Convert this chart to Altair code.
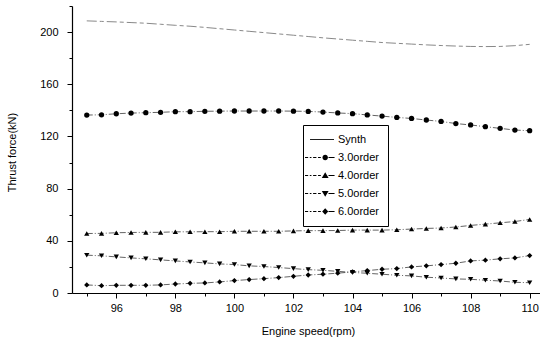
import altair as alt
import pandas as pd

# ---------------- data ----------------
rpm = [95, 95.5, 96, 96.5, 97, 97.5, 98, 98.5, 99, 99.5, 100, 100.5, 101, 101.5,
       102, 102.5, 103, 103.5, 104, 104.5, 105, 105.5, 106, 106.5, 107, 107.5,
       108, 108.5, 109, 109.5, 110]

synth = [208.6, 208.2, 207.8, 207.3, 206.8, 206.0, 205.2, 204.5, 203.6, 202.6,
         201.6, 200.6, 199.6, 198.6, 197.6, 196.6, 195.6, 194.7, 193.8, 192.9,
         192.0, 191.4, 190.8, 190.2, 189.7, 189.3, 189.0, 188.9, 189.0, 189.6, 190.6]

order3 = [136.4, 136.6, 137.4, 137.9, 138.2, 138.5, 139.0, 139.0, 139.3, 139.4,
          139.5, 139.5, 139.5, 139.5, 139.4, 139.2, 138.7, 138.0, 137.5, 136.5,
          135.6, 134.6, 133.8, 132.6, 131.5, 129.9, 128.8, 127.5, 126.2, 124.9, 124.4]

order4 = [45.6, 45.7, 46.2, 46.4, 46.5, 46.5, 46.9, 46.9, 47.0, 47.0,
          47.3, 47.3, 47.3, 47.3, 47.6, 47.8, 47.8, 47.9, 48.2, 48.2,
          48.2, 48.5, 49.0, 49.5, 49.8, 50.6, 51.8, 52.8, 53.8, 54.8, 56.4]

order5 = [29.0, 28.5, 27.7, 26.9, 26.2, 25.4, 24.6, 23.8, 23.1, 22.3,
          21.8, 20.8, 20.3, 19.5, 18.7, 17.9, 17.4, 16.6, 15.8, 15.1,
          14.4, 13.6, 13.1, 12.1, 11.5, 10.8, 10.5, 9.8, 9.2, 8.2, 7.9]

order6 = [6.2, 5.6, 5.9, 5.9, 5.9, 6.2, 6.9, 7.4, 7.7, 8.5,
          9.5, 10.3, 11.0, 11.8, 12.8, 13.8, 14.4, 15.2, 16.2, 17.2,
          18.2, 18.7, 20.0, 20.8, 21.8, 22.8, 24.6, 25.2, 26.2, 26.9, 28.7]

series_names = ["Synth", "3.0order", "4.0order", "5.0order", "6.0order"]
marker_series = ["3.0order", "4.0order", "5.0order", "6.0order"]

x_major_ticks = [96, 98, 100, 102, 104, 106, 108, 110]
x_minor_ticks = [95, 97, 99, 101, 103, 105, 107, 109]
y_major_ticks = [0, 40, 80, 120, 160, 200]
y_minor_ticks = [20, 60, 100, 140, 180, 220]

x_title = "Engine speed(rpm)"
y_title = "Thrust force(kN)"

# ---------------- table ----------------
rows = []
for name, vals in zip(series_names, [synth, order3, order4, order5, order6]):
    for r, v in zip(rpm, vals):
        rows.append({"rpm": r, "force": v, "series": name})
df = pd.DataFrame(rows)

FONT = "Liberation Sans"
W, H = 468, 287

xscale = alt.Scale(domain=[94.5, 110.35], nice=False, zero=False)
yscale = alt.Scale(domain=[0, 220], nice=False, zero=False)

# ---------------- legend symbol paths (line + marker) ----------------
# symbol size 121 -> one path unit = 5.5 px, symbol centre 5.5 px from entry origin
def rect(x0, x1, h=0.08):
    return f"M{x0},{-h}H{x1}V{h}H{x0}Z"

mx = 1.4    # marker centre (path units)
r = 0.5
circle = f"M{mx - r},0A{r},{r} 0 1,0 {mx + r},0A{r},{r} 0 1,0 {-r + mx},0Z"
tri_up = f"M{mx},-0.6L{mx + 0.62},0.45L{mx - 0.62},0.45Z"
tri_dn = f"M{mx},0.6L{mx + 0.62},-0.45L{mx - 0.62},-0.45Z"
diamond = f"M{mx},-0.6L{mx + 0.55},0L{mx},0.6L{mx - 0.55},0Z"
dashes_left = rect(-2.27, -1.7) + rect(-1.4, -1.1) + rect(-0.8, -0.2) + rect(0.1, 0.6)
solid_right = rect(2.0, 3.1)

legend_paths = [
    rect(-1.36, 3.0),
    dashes_left + circle + solid_right,
    dashes_left + tri_up + solid_right,
    dashes_left + tri_dn + solid_right,
    dashes_left + diamond + solid_right,
]

# ---------------- layers ----------------
lines = alt.Chart(df).mark_line(strokeWidth=0.8).encode(
    x=alt.X("rpm:Q", scale=xscale,
            axis=alt.Axis(values=x_major_ticks, format="d", orient="bottom",
                          title=x_title, tickSize=5, labelPadding=4,
                          titleBaseline="middle", titleY=38, titleX=236)),
    y=alt.Y("force:Q", scale=yscale,
            axis=alt.Axis(values=y_major_ticks, format="d", orient="left",
                          title=y_title, tickSize=5, labelPadding=9,
                          titleAngle=270, titleBaseline="middle",
                          titleX=-60, titleY=146)),
    strokeDash=alt.StrokeDash(
        "series:N",
        scale=alt.Scale(domain=series_names,
                        range=[[10, 3, 4, 3], [6, 2, 1, 2], [6, 2, 1, 2],
                               [6, 2, 1, 2], [6, 2, 1, 2]]),
        legend=None),
    color=alt.Color(
        "series:N",
        scale=alt.Scale(domain=series_names,
                        range=["#6a6a6a", "#3c3c3c", "#3c3c3c", "#3c3c3c", "#3c3c3c"]),
        legend=None),
)

points = alt.Chart(df).transform_filter(
    alt.FieldOneOfPredicate(field="series", oneOf=marker_series)
).mark_point(filled=True, color="black", opacity=1, size=28).encode(
    x=alt.X("rpm:Q", scale=xscale,
            axis=alt.Axis(values=x_minor_ticks, labels=False, domain=False,
                          tickSize=3, orient="bottom", title=None)),
    y=alt.Y("force:Q", scale=yscale,
            axis=alt.Axis(values=y_minor_ticks, labels=False, domain=False,
                          tickSize=3, orient="left", title=None)),
    shape=alt.Shape("series:N",
                    scale=alt.Scale(domain=marker_series,
                                    range=["circle", "triangle-up",
                                           "triangle-down", "diamond"]),
                    legend=None),
)

legend_layer = alt.Chart(df).transform_filter("false").mark_point(
    filled=True, color="black", opacity=1
).encode(
    shape=alt.Shape(
        "series:N",
        scale=alt.Scale(domain=series_names, range=legend_paths),
        legend=alt.Legend(
            orient="none", legendX=231, legendY=119, title=None,
            strokeColor="black", fillColor="white", padding=9,
            symbolSize=121, symbolFillColor="black", symbolStrokeWidth=0,
            labelFont=FONT, labelFontSize=11, labelColor="black",
            labelOffset=15, rowPadding=6,
        ),
    )
)

chart = alt.layer(lines, points, legend_layer).resolve_axis(
    x="independent", y="independent"
).resolve_scale(shape="independent").properties(
    width=W, height=H,
    autosize=alt.AutoSizeParams(type="none"),
    padding={"left": 72, "top": 6, "right": 0, "bottom": 47},
    background="white",
).configure_view(stroke=None).configure_axis(
    labelFont=FONT, labelFontSize=11, labelColor="black",
    titleFont=FONT, titleFontSize=11, titleFontWeight="normal", titleColor="black",
    domainColor="black", domainWidth=1.2, tickColor="black", tickWidth=1,
    grid=False,
)

chart.save("out.html", embed_options={"renderer": "svg", "actions": False})
